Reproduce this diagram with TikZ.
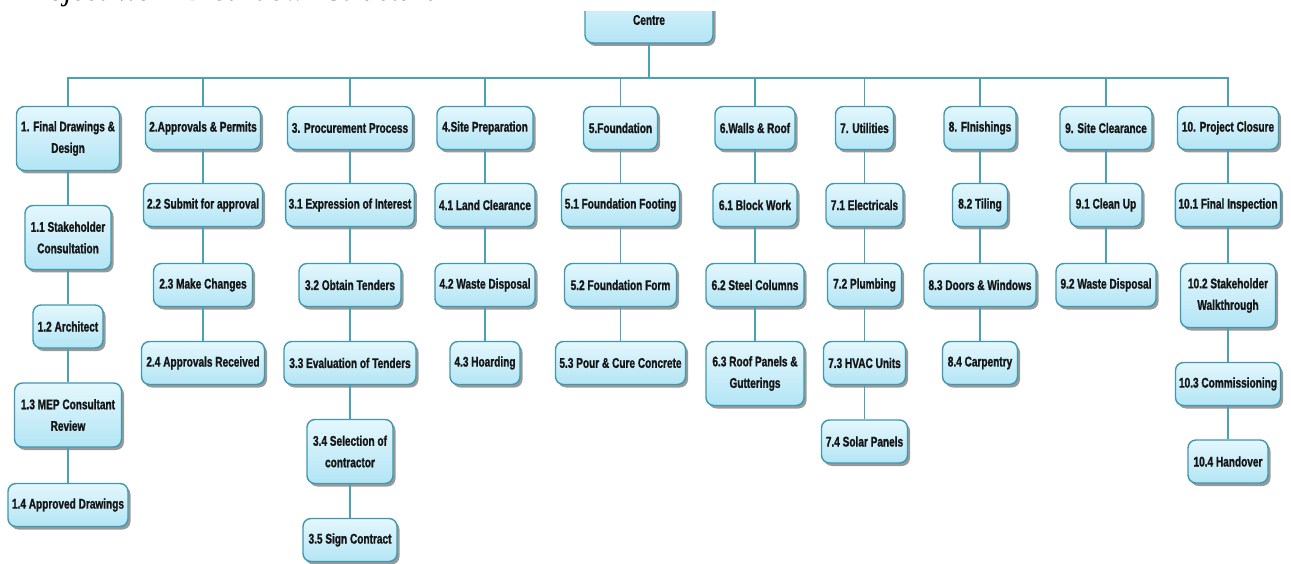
\documentclass[tikz,border=0pt]{standalone}
\usepackage{fontspec}
\setmainfont{Liberation Sans}
\newfontfamily\boxfont{Liberation Sans}[FakeStretch=0.72,FakeBold=1.2]
\newfontfamily\titlefont{Liberation Serif}
\usetikzlibrary{shadows}
\definecolor{boxedge}{HTML}{3F98AE}
\definecolor{boxtop}{HTML}{E4F7FD}
\definecolor{boxbot}{HTML}{B3E5F5}
\definecolor{boxtext}{HTML}{161616}
\definecolor{linkcol}{HTML}{4AA3B4}
\begin{document}
\begin{tikzpicture}[x=1pt,y=-1pt,
  wbs/.style={draw=boxedge, line width=1.4pt, rounded corners=8pt,
    top color=boxtop, bottom color=boxbot,
    drop shadow={shadow xshift=2.5pt, shadow yshift=-3pt, fill=black, opacity=0.4},
    font=\boxfont\bfseries\fontsize{14}{21.5}\selectfont, text=boxtext,
    align=center, inner xsep=3pt, inner ysep=0pt, minimum height=43pt},
  two/.style={minimum height=64pt},
  link/.style={draw=linkcol, line width=1.3pt}]
\useasboundingbox (0,0) rectangle (1291,564);

% heading line, only its lower edge falls on the page
\begin{scope}
  \clip (0,0) rectangle (1291,10);
  \node[anchor=base west, inner sep=0pt, font=\titlefont\itshape\fontsize{30}{30}\selectfont] (title) at (20,1) {Project Work Breakdown Structure};
\end{scope}

\begin{scope}
\clip (0,12) rectangle (1291,564);

% root
\node[wbs, minimum width=128pt, minimum height=62pt] (centre) at (649,12) {};
\node[font=\boxfont\bfseries\fontsize{14}{16}\selectfont, text=boxtext] (centretxt) at (649,20) {Centre};
\coordinate (bus) at (649,78);

% first level
\node[wbs, two, minimum width=103pt] (t1) at (68,138.5) {1. Final Drawings \&\\Design};
\node[wbs, minimum width=115pt] (t2) at (203,128) {2.Approvals \& Permits};
\node[wbs, minimum width=125pt] (t3) at (350,128) {3. Procurement Process};
\node[wbs, minimum width=96pt] (t4) at (485,128) {4.Site Preparation};
\node[wbs, minimum width=74pt] (t5) at (620.5,128) {5.Foundation};
\node[wbs, minimum width=80pt] (t6) at (755,128) {6.Walls \& Roof};
\node[wbs, minimum width=58pt] (t7) at (864.5,128) {7. Utilities};
\node[wbs, minimum width=72pt] (t8) at (980,128) {8. FInishings};
\node[wbs, minimum width=92pt] (t9) at (1106,128) {9. Site Clearance};
\node[wbs, minimum width=101pt] (t10) at (1228,128) {10. Project Closure};

% branch 1
\node[wbs, two, minimum width=86pt] (a11) at (68,237.5) {1.1 Stakeholder\\Consultation};
\node[wbs, minimum width=70pt] (a12) at (68,326.5) {1.2 Architect};
\node[wbs, two, minimum width=107pt] (a13) at (68,415) {1.3 MEP Consultant\\Review};
\node[wbs, minimum width=120pt] (a14) at (68,505) {1.4 Approved Drawings};

% branch 2
\node[wbs, minimum width=119pt] (a22) at (203,205) {2.2 Submit for approval};
\node[wbs, minimum width=99pt] (a23) at (203,285) {2.3 Make Changes};
\node[wbs, minimum width=123pt] (a24) at (203,363) {2.4 Approvals Received};

% branch 3
\node[wbs, minimum width=128pt] (a31) at (350,205) {3.1 Expression of Interest};
\node[wbs, minimum width=102pt] (a32) at (350,285) {3.2 Obtain Tenders};
\node[wbs, minimum width=132pt] (a33) at (350,363) {3.3 Evaluation of Tenders};
\node[wbs, two, minimum width=86pt] (a34) at (350,451.5) {3.4 Selection of\\contractor};
\node[wbs, minimum width=94pt] (a35) at (350,540) {3.5 Sign Contract};

% branch 4
\node[wbs, minimum width=100pt] (a41) at (485,205) {4.1 Land Clearance};
\node[wbs, minimum width=100pt] (a42) at (485,285) {4.2 Waste Disposal};
\node[wbs, minimum width=70pt] (a43) at (485,363) {4.3 Hoarding};

% branch 5
\node[wbs, minimum width=118pt] (a51) at (620.5,205) {5.1 Foundation Footing};
\node[wbs, minimum width=112pt] (a52) at (620.5,285) {5.2 Foundation Form};
\node[wbs, minimum width=130pt] (a53) at (620.5,363) {5.3 Pour \& Cure Concrete};

% branch 6
\node[wbs, minimum width=84pt] (a61) at (755,205) {6.1 Block Work};
\node[wbs, minimum width=98pt] (a62) at (755,285) {6.2 Steel Columns};
\node[wbs, two, minimum width=98pt] (a63) at (755,373.5) {6.3 Roof Panels \&\\Gutterings};

% branch 7
\node[wbs, minimum width=77pt] (a71) at (864.5,205) {7.1 Electricals};
\node[wbs, minimum width=74pt] (a72) at (864.5,285) {7.2 Plumbing};
\node[wbs, minimum width=82pt] (a73) at (864.5,363) {7.3 HVAC Units};
\node[wbs, minimum width=86pt] (a74) at (864.5,441.5) {7.4 Solar Panels};

% branch 8
\node[wbs, minimum width=55pt] (a82) at (980,205) {8.2 Tiling};
\node[wbs, minimum width=112pt] (a83) at (980,285) {8.3 Doors \& Windows};
\node[wbs, minimum width=75pt] (a84) at (980,363) {8.4 Carpentry};

% branch 9
\node[wbs, minimum width=72pt] (a91) at (1106,205) {9.1 Clean Up};
\node[wbs, minimum width=100pt] (a92) at (1106,285) {9.2 Waste Disposal};

% branch 10
\node[wbs, minimum width=105pt] (a101) at (1228,205) {10.1 Final Inspection};
\node[wbs, two, minimum width=95pt] (a102) at (1228,295.5) {10.2 Stakeholder\\Walkthrough};
\node[wbs, minimum width=105pt] (a103) at (1228,384) {10.3 Commissioning};
\node[wbs, minimum width=80pt] (a104) at (1228,461.5) {10.4 Handover};

% root to first level
\draw[link] (centre.south) -- (bus);
\foreach \t in {t1,t2,t3,t4,t5,t6,t7,t8,t9,t10}
  \draw[link] (bus) -| (\t.north);

% chains inside each branch
\foreach \p/\c in {t1/a11,a11/a12,a12/a13,a13/a14,
                   t2/a22,a22/a23,a23/a24,
                   t3/a31,a31/a32,a32/a33,a33/a34,a34/a35,
                   t4/a41,a41/a42,a42/a43,
                   t5/a51,a51/a52,a52/a53,
                   t6/a61,a61/a62,a62/a63,
                   t7/a71,a71/a72,a72/a73,a73/a74,
                   t8/a82,a82/a83,a83/a84,
                   t9/a91,a91/a92,
                   t10/a101,a101/a102,a102/a103,a103/a104}
  \draw[link] (\p.south) -- (\c.north);
\end{scope}
\end{tikzpicture}
\end{document}
